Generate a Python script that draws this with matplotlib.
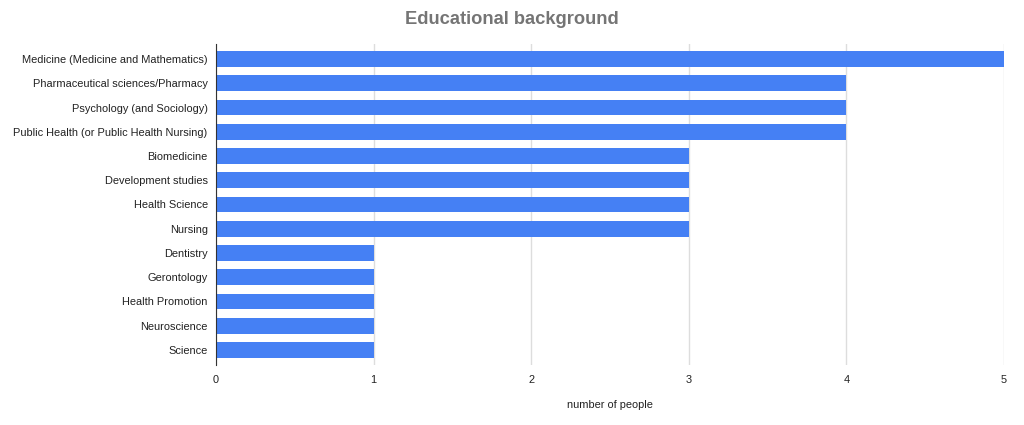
import matplotlib
matplotlib.use('Agg')
import matplotlib.pyplot as plt

plt.rcParams['font.family'] = ['Liberation Sans', 'DejaVu Sans']

categories = ['Medicine (Medicine and Mathematics)', 'Pharmaceutical sciences/Pharmacy',
              'Psychology (and Sociology)', 'Public Health (or Public Health Nursing)',
              'Biomedicine', 'Development studies', 'Health Science', 'Nursing',
              'Dentistry', 'Gerontology', 'Health Promotion', 'Neuroscience', 'Science']
counts = [5, 4, 4, 4, 3, 3, 3, 3, 1, 1, 1, 1, 1]
xticks = [0, 1, 2, 3, 4, 5]

fig = plt.figure(figsize=(10.24, 4.25), dpi=100)
ax = fig.add_axes([0.2109, 0.1412, 0.7696, 0.7553])

ax.barh(range(len(categories)), counts, height=0.65, color='#4580f4', zorder=3)
ax.set_yticks(range(len(categories)))
ax.set_yticklabels(categories, fontsize=7.9, color='#222222')
ax.set_ylim(len(categories) - 1 + 0.62, -0.62)
ax.set_xlim(0, 5)
ax.set_xticks(xticks)
ax.set_xticklabels([str(t) for t in xticks], fontsize=7.9, color='#222222')
ax.tick_params(axis='both', length=0)
ax.tick_params(axis='x', pad=7)
ax.tick_params(axis='y', pad=6)
ax.grid(axis='x', color='#dddddd', linewidth=1, zorder=0)
for s in ['top', 'right', 'bottom']:
    ax.spines[s].set_visible(False)
ax.spines['left'].set_color('#333333')
ax.spines['left'].set_zorder(4)

ax.set_xlabel('number of people', fontsize=7.9, color='#222222', labelpad=11)
fig.suptitle('Educational background', fontsize=13.2, fontweight='bold', color='#757575', y=0.975)

fig.savefig('out.png', dpi=100)
